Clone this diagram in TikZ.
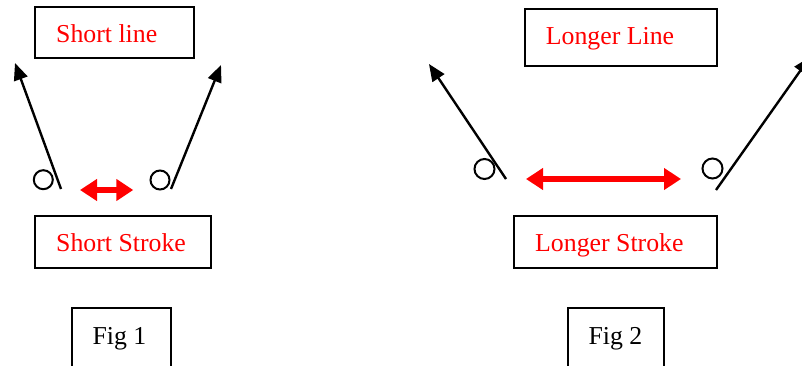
\documentclass[tikz,border=0pt]{standalone}
\usepackage{fontspec}
\setmainfont{Liberation Serif}
\usetikzlibrary{arrows.meta}
\begin{document}
\begin{tikzpicture}[x=1pt,y=-1pt,
  box/.style={draw=black,line width=1.8pt,rectangle,inner sep=0pt},
  lbl/.style={anchor=base west,inner sep=0pt,font=\fontsize{25.8}{30}\selectfont},
  red lbl/.style={lbl,text=red},
  ring/.style={draw=black,line width=2pt,circle,inner sep=0pt},
  swing/.style={draw=black,line width=2.4pt,-{Triangle[length=17pt,width=14pt]}},
  stroke/.style={draw=red,line width=5.5pt,{Triangle[length=17pt,width=21pt]}-{Triangle[length=17pt,width=21pt]}}]
\useasboundingbox (0,0) rectangle (802,366);
\clip (0,0) rectangle (802,366);
% Fig 1
\node[box,minimum width=159pt,minimum height=51pt] (b1) at (114.5,32.8) {};
\node[red lbl] (t1) at (56,42.7) {Short line};
\node[box,minimum width=176pt,minimum height=51.4pt] (b2) at (122.7,242) {};
\node[red lbl] (t2) at (56,251) {Short Stroke};
\node[box,minimum width=99pt,minimum height=72pt] (b3) at (121.2,344) {};
\node[lbl] (t3) at (92.3,344.3) {Fig 1};
\node[ring,minimum size=19pt] (c1) at (43.3,179.7) {};
\node[ring,minimum size=19pt] (c2) at (160,180) {};
\coordinate (a1s) at (61,189);
\coordinate (a1e) at (15,63);
\coordinate (a2s) at (171,189);
\coordinate (a2e) at (221,65);
\draw[swing] (a1s) -- (a1e);
\draw[swing] (a2s) -- (a2e);
\coordinate (r1a) at (80,190);
\coordinate (r1b) at (133.3,190);
\draw[stroke] (r1a) -- (r1b);
% Fig 2
\node[box,minimum width=192pt,minimum height=56.4pt] (b4) at (621,37.5) {};
\node[red lbl] (t4) at (545.7,45) {Longer Line};
\node[box,minimum width=203pt,minimum height=51.7pt] (b5) at (615.8,241.8) {};
\node[red lbl] (t5) at (535,251) {Longer Stroke};
\node[box,minimum width=96pt,minimum height=72pt] (b6) at (615.7,344) {};
\node[lbl] (t6) at (588.3,344.3) {Fig 2};
\node[ring,minimum size=20pt] (c3) at (484.5,169) {};
\node[ring,minimum size=20pt] (c4) at (712.5,168.5) {};
\coordinate (a3s) at (506,179);
\coordinate (a3e) at (429,64);
\coordinate (a4s) at (716,190);
\coordinate (a4e) at (810,57);
\draw[swing] (a3s) -- (a3e);
\draw[swing] (a4s) -- (a4e);
\coordinate (r2a) at (526,179);
\coordinate (r2b) at (681,179);
\draw[stroke] (r2a) -- (r2b);
\end{tikzpicture}
\end{document}
